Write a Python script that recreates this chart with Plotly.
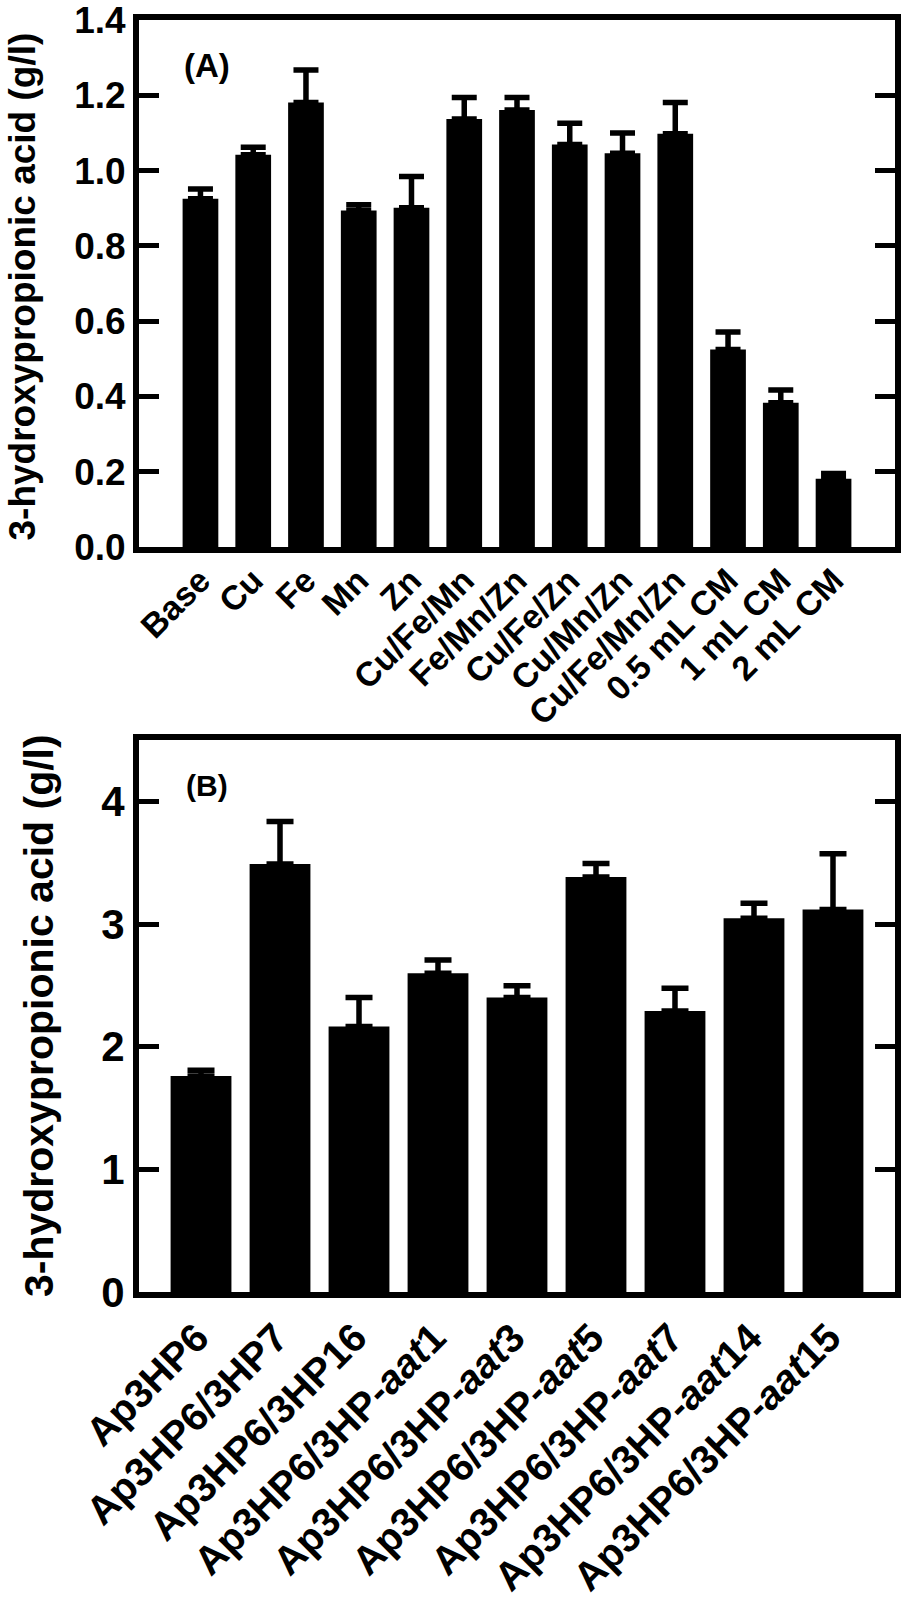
import plotly.graph_objects as go

# ---------------- data ----------------
top_categories = ["Base", "Cu", "Fe", "Mn", "Zn", "Cu/Fe/Mn", "Fe/Mn/Zn", "Cu/Fe/Zn",
                  "Cu/Mn/Zn", "Cu/Fe/Mn/Zn", "0.5 mL CM", "1 mL CM", "2 mL CM"]
top_values = [0.925, 1.042, 1.181, 0.894, 0.901, 1.137, 1.161, 1.069, 1.046, 1.098, 0.525, 0.383, 0.181]
top_errors = [0.026, 0.020, 0.086, 0.015, 0.083, 0.057, 0.033, 0.057, 0.054, 0.083, 0.046, 0.034, 0.014]
top_yticks = [0.0, 0.2, 0.4, 0.6, 0.8, 1.0, 1.2, 1.4]

bottom_categories = ["Ap3HP6", "Ap3HP6/3HP7", "Ap3HP6/3HP16", "Ap3HP6/3HP-aat1", "Ap3HP6/3HP-aat3",
                     "Ap3HP6/3HP-aat5", "Ap3HP6/3HP-aat7", "Ap3HP6/3HP-aat14", "Ap3HP6/3HP-aat15"]
bottom_values = [1.761, 3.49, 2.164, 2.599, 2.40, 3.383, 2.291, 3.046, 3.118]
bottom_errors = [0.046, 0.345, 0.236, 0.107, 0.096, 0.110, 0.185, 0.124, 0.455]
bottom_yticks = [0, 1, 2, 3, 4]

y_title = "3-hydroxypropionic acid (g/l)"

# ---------------- figure ----------------
W, H = 902, 1607
FONT = "Liberation Sans"


def px_x(p):
    return p / W


def px_y(p):
    return 1 - p / H


fig = go.Figure()

fig.add_trace(go.Bar(
    x=top_categories, y=top_values, xaxis="x", yaxis="y", width=0.677,
    marker=dict(color="black", line=dict(width=0)),
    error_y=dict(type="data", array=top_errors, symmetric=False,
                 arrayminus=[0] * len(top_errors), color="black", thickness=5.5, width=12.5),
    showlegend=False,
))

fig.add_trace(go.Bar(
    x=bottom_categories, y=bottom_values, xaxis="x2", yaxis="y2", width=0.77,
    marker=dict(color="black", line=dict(width=0)),
    error_y=dict(type="data", array=bottom_errors, symmetric=False,
                 arrayminus=[0] * len(bottom_errors), color="black", thickness=5.5, width=13.5),
    showlegend=False,
))

bottom_ticktext = [c.replace("aat", "<i>aat</i>") for c in bottom_categories]

common_line = dict(showline=True, linecolor="black", linewidth=6, showgrid=False,
                   zeroline=False, automargin=False, ticklabeloverflow="allow")

fig.update_layout(
    width=W, height=H, autosize=False,
    margin=dict(l=0, r=0, t=0, b=0, pad=0),
    paper_bgcolor="white", plot_bgcolor="white",
    font=dict(family=FONT, color="black", weight="bold"),
    xaxis=dict(
        **common_line, mirror=True, anchor="y",
        domain=[px_x(139), px_x(895)],
        range=[-1.165, len(top_categories) - 1 + 1.165],
        ticks="", tickangle=-45, ticklabelstandoff=-6,
        tickfont=dict(family=FONT, size=34, color="black", weight="bold"),
    ),
    yaxis=dict(
        **common_line, mirror="ticks", anchor="x",
        domain=[px_y(547), px_y(20)],
        range=[0, 1.40001], tickvals=top_yticks, ticktext=[f"{v:.1f}" for v in top_yticks],
        ticks="inside", ticklen=20, tickwidth=5, tickcolor="black",
        tickfont=dict(family=FONT, size=37, color="black", weight="bold"),
    ),
    xaxis2=dict(
        **common_line, mirror=True, anchor="y2",
        domain=[px_x(139), px_x(895)],
        range=[-0.785, len(bottom_categories) - 1 + 0.785],
        tickvals=bottom_categories, ticktext=bottom_ticktext,
        ticks="", tickangle=-45, ticklabelshift=-4,
        tickfont=dict(family=FONT, size=40, color="black", weight="bold"),
    ),
    yaxis2=dict(
        **common_line, mirror="ticks", anchor="x2",
        domain=[px_y(1292), px_y(740)],
        range=[0, 4.5], tickvals=bottom_yticks,
        ticks="inside", ticklen=20, tickwidth=5, tickcolor="black",
        tickfont=dict(family=FONT, size=42, color="black", weight="bold"),
    ),
)

ann_font = dict(family=FONT, color="black", weight="bold")
fig.add_annotation(text="(A)", x=px_x(207), y=px_y(66), xref="paper", yref="paper",
                   xanchor="center", yanchor="middle", showarrow=False,
                   font=dict(**ann_font, size=33))
fig.add_annotation(text="(B)", x=px_x(207), y=px_y(785), xref="paper", yref="paper",
                   xanchor="center", yanchor="middle", showarrow=False,
                   font=dict(**ann_font, size=30))
fig.add_annotation(text=y_title, x=px_x(22.5), y=px_y(287), xref="paper", yref="paper",
                   xanchor="center", yanchor="middle", textangle=-90, showarrow=False,
                   font=dict(**ann_font, size=37))
fig.add_annotation(text=y_title, x=px_x(39), y=px_y(1016), xref="paper", yref="paper",
                   xanchor="center", yanchor="middle", textangle=-90, showarrow=False,
                   font=dict(**ann_font, size=41))

fig.write_html("out.html", config={"displayModeBar": False},
               post_script="document.body.style.margin='0';")
